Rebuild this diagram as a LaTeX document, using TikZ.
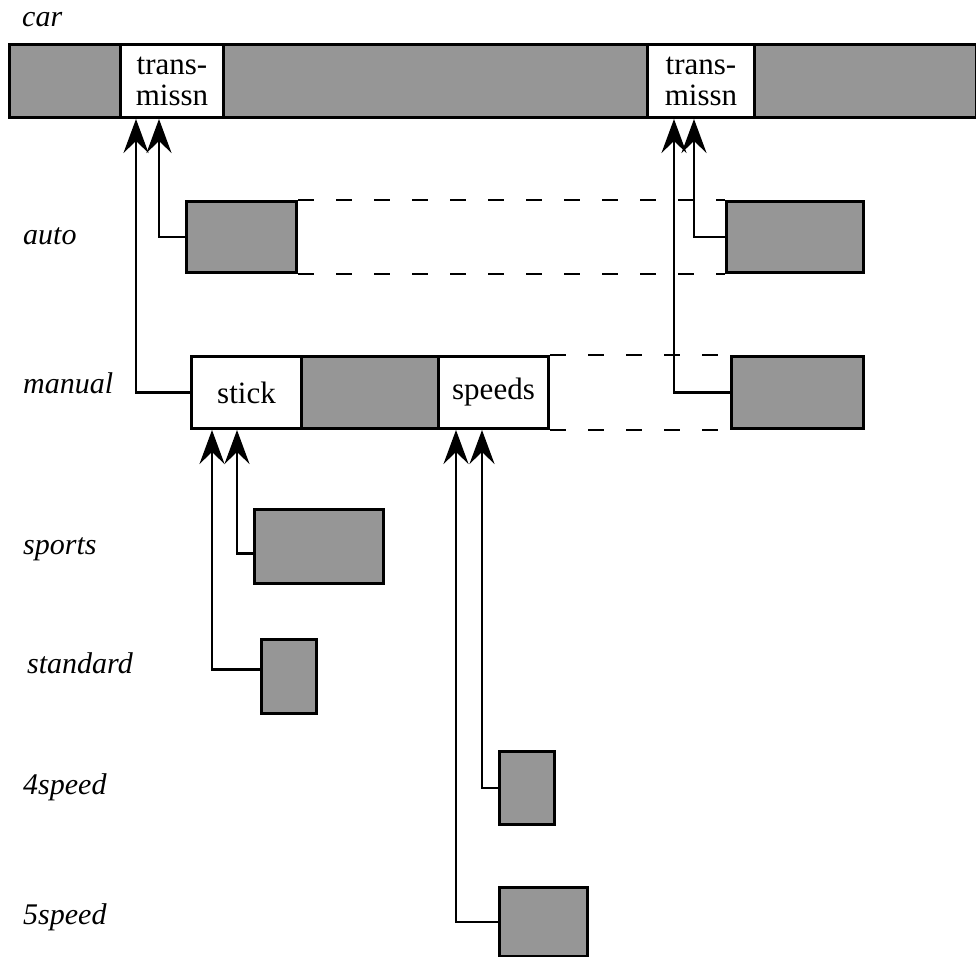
\documentclass[tikz,border=0pt]{standalone}
\usepackage{fontspec}
\setmainfont{Liberation Serif}
\usetikzlibrary{arrows.meta}
\definecolor{dotgray}{RGB}{150,150,150}
\newcommand\boxfont{\fontsize{31}{31}\selectfont}
\newcommand\lblfont{\fontsize{30}{32}\selectfont\itshape}
\tikzset{
  cell/.style={draw, line width=3pt, inner sep=0pt, anchor=north west},
  shaded/.style={cell, fill=dotgray},
  plain/.style={cell, fill=white, font=\boxfont, align=center},
  conn/.style={line width=2.4pt, -{Stealth[length=34pt, width=25pt, inset=12pt]}},
  dashln/.style={line width=2.6pt, dash pattern=on 16pt off 22pt},
  lbl/.style={anchor=base west, font=\lblfont, inner sep=0pt}
}
\begin{document}
\begin{tikzpicture}[x=1pt, y=-1pt]
\useasboundingbox (0,0) rectangle (976,957);

% level labels
\node[lbl] (lcar) at (22,27) {car};
\node[lbl] (lauto) at (23,245) {auto};
\node[lbl] (lmanual) at (23,393) {manual};
\node[lbl] (lsports) at (23,554) {sports};
\node[lbl] (lstandard) at (27,673) {standard};
\node[lbl] (lfour) at (23,794) {4speed};
\node[lbl] (lfive) at (23,924) {5speed};

% car record with its two transmission slots
\node[shaded, minimum width=967pt, minimum height=73pt] (car) at (8,43) {};
\node[plain, minimum width=103pt, minimum height=73pt] (trans1) at (119,43) {trans-\\missn};
\node[plain, minimum width=107pt, minimum height=73pt] (trans2) at (646,43) {trans-\\missn};

% auto records
\node[shaded, minimum width=110pt, minimum height=71pt] (auto1) at (185,200) {};
\node[shaded, minimum width=137pt, minimum height=71pt] (auto2) at (725,200) {};

% manual records
\node[plain, minimum width=110pt, minimum height=72pt] (stick) at (190,355) {stick};
\node[shaded, minimum width=137pt, minimum height=72pt] (mmid) at (300,355) {};
\node[plain, minimum width=110pt, minimum height=72pt] (speeds) at (437,355) {speeds};
\node[shaded, minimum width=132pt, minimum height=72pt] (mr) at (730,355) {};

% stick variants
\node[shaded, minimum width=129pt, minimum height=74pt] (sports) at (253,508) {};
\node[shaded, minimum width=55pt, minimum height=74pt] (standard) at (260,638) {};

% speed variants
\node[shaded, minimum width=55pt, minimum height=73pt] (foursp) at (498,750) {};
\node[shaded, minimum width=88pt, minimum height=69pt] (fivesp) at (498,886) {};

% dashed extents
\draw[dashln] (auto1.north east) -- (auto2.north west);
\draw[dashln] (auto1.south east) -- (auto2.south west);
\draw[dashln] (speeds.north east) -- (mr.north west);
\draw[dashln] (speeds.south east) -- (mr.south west);

% references into the car record
\draw[conn] (stick.west) -| ([xshift=17pt]trans1.south west);
\draw[conn] (auto1.west) -| ([xshift=40pt]trans1.south west);
\draw[conn] (mr.west) -| ([xshift=28pt]trans2.south west);
\draw[conn] (auto2.west) -| ([xshift=48pt]trans2.south west);

% references into the manual record
\draw[conn] ([yshift=7pt]standard.west) -| ([xshift=22pt]stick.south west);
\draw[conn] ([yshift=-7pt]sports.west) -| ([xshift=47pt]stick.south west);
\draw[conn] (fivesp.west) -| ([xshift=19pt]speeds.south west);
\draw[conn] (foursp.west) -| ([xshift=45pt]speeds.south west);
\end{tikzpicture}
\end{document}
